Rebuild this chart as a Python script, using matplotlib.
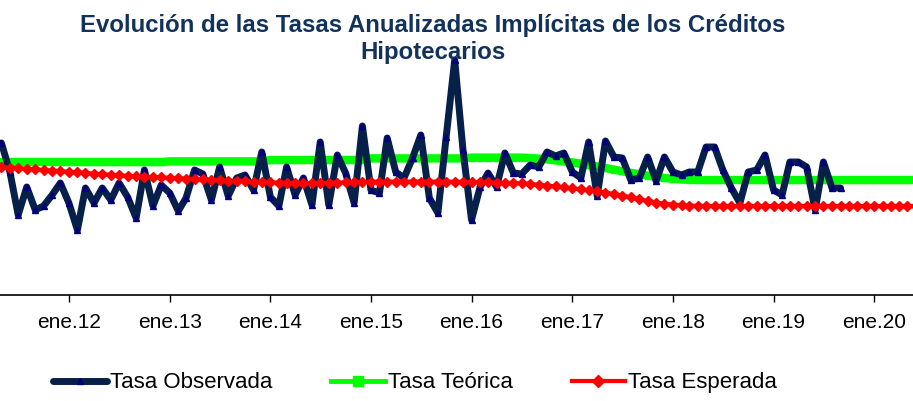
import matplotlib.pyplot as plt
from matplotlib.lines import Line2D
import pandas as pd

plt.rcParams['font.family'] = ['Liberation Sans', 'DejaVu Sans']

# monthly series, start May 2011
titulo = "Evolución de las Tasas Anualizadas Implícitas de los Créditos\nHipotecarios"
series = ["Tasa Observada", "Tasa Teórica", "Tasa Esperada"]
inicio = "2011-05-01"

tasa_observada = [
    8.35, 6.90, 4.75, 6.15, 5.00, 5.20, 5.75, 6.35,
    5.35, 4.00, 6.10, 5.35, 6.10, 5.50, 6.35, 5.65, 4.60, 7.00, 5.20, 6.25,
    5.85, 4.95, 5.60, 7.00, 6.80, 5.50, 7.15, 5.70, 6.60, 6.75, 6.00, 7.90,
    5.65, 5.20, 7.15, 5.75, 6.60, 5.25, 8.40, 5.25, 7.75, 6.85, 5.35, 9.20,
    6.00, 5.85, 8.60, 6.90, 6.60, 7.60, 8.75, 5.60, 4.85, 8.65, 12.50, 8.00,
    4.50, 6.15, 6.85, 6.15, 7.85, 6.85, 6.80, 7.25, 7.15, 7.90, 7.70, 7.85,
    6.90, 6.60, 8.40, 5.70, 8.45, 7.65, 7.60, 6.50, 6.60, 7.65, 6.45, 7.65,
    6.90, 6.75, 6.90, 6.90, 8.15, 8.15, 7.00, 6.10, 5.35, 6.90, 7.00, 7.75,
    6.00, 5.75, 7.40, 7.40, 7.15, 5.00, 7.40, 6.10, 6.10,
]

tasa_teorica = [
    7.40, 7.40, 7.40, 7.40, 7.40, 7.40, 7.40, 7.40,
    7.40, 7.40, 7.40, 7.40, 7.40, 7.40, 7.40, 7.40, 7.40, 7.40, 7.40, 7.40,
    7.43, 7.43, 7.43, 7.43, 7.43, 7.43, 7.43, 7.43, 7.43, 7.43, 7.43, 7.43,
    7.50, 7.50, 7.50, 7.50, 7.50, 7.50, 7.50, 7.50, 7.50, 7.50, 7.50, 7.50,
    7.58, 7.58, 7.58, 7.58, 7.58, 7.58, 7.58, 7.58, 7.58, 7.58, 7.58, 7.58,
    7.62, 7.62, 7.62, 7.62, 7.62, 7.62, 7.62, 7.60, 7.57, 7.53, 7.48, 7.43,
    7.38, 7.32, 7.25, 7.18, 7.10, 7.02, 6.94, 6.86, 6.79, 6.72, 6.66, 6.60,
    6.56, 6.53, 6.51, 6.50, 6.50, 6.50, 6.50, 6.50, 6.50, 6.50, 6.50, 6.50,
    6.50, 6.50, 6.50, 6.50, 6.50, 6.50, 6.50, 6.50, 6.50, 6.50, 6.50, 6.50,
    6.50, 6.50, 6.50, 6.50, 6.50, 6.50,
]

tasa_esperada = [
    7.15, 7.12, 7.09, 7.06, 7.03, 7.00, 6.97, 6.94,
    6.91, 6.88, 6.85, 6.82, 6.79, 6.76, 6.73, 6.71, 6.69, 6.67, 6.65, 6.63,
    6.61, 6.59, 6.57, 6.55, 6.53, 6.51, 6.49, 6.47, 6.45, 6.43, 6.41, 6.39,
    6.38, 6.37, 6.36, 6.35, 6.34, 6.34, 6.35, 6.36, 6.37, 6.38, 6.39, 6.40,
    6.41, 6.41, 6.42, 6.42, 6.42, 6.42, 6.42, 6.42, 6.42, 6.42, 6.41, 6.41,
    6.40, 6.39, 6.38, 6.37, 6.36, 6.35, 6.33, 6.30, 6.26, 6.22, 6.18, 6.13,
    6.08, 6.03, 5.98, 5.93, 5.87, 5.80, 5.72, 5.63, 5.54, 5.45, 5.37, 5.31,
    5.27, 5.24, 5.22, 5.21, 5.20, 5.20, 5.20, 5.20, 5.20, 5.20, 5.20, 5.20,
    5.20, 5.20, 5.20, 5.20, 5.20, 5.20, 5.20, 5.20, 5.20, 5.20, 5.20, 5.20,
    5.20, 5.20, 5.20, 5.20, 5.20, 5.20,
]

anios_ticks = ["2012-01-01", "2013-01-01", "2014-01-01", "2015-01-01", "2016-01-01",
               "2017-01-01", "2018-01-01", "2019-01-01", "2020-01-01"]
etiquetas_ticks = ["ene.12", "ene.13", "ene.14", "ene.15", "ene.16",
                   "ene.17", "ene.18", "ene.19", "ene.20"]

fechas_obs = pd.date_range(inicio, periods=len(tasa_observada), freq="MS")
fechas_mod = pd.date_range(inicio, periods=len(tasa_teorica), freq="MS")

col_obs, col_teo, col_esp = "#06204A", "#00FF00", "#FF0000"

fig = plt.figure(figsize=(9.13, 4.01), dpi=100)
ax = fig.add_axes([0, 0.2643, 1, 0.636])
ax.patch.set_alpha(0)

ax.plot(fechas_mod, tasa_teorica, color=col_teo, lw=6, marker="s", ms=5,
        mfc=col_teo, mec=col_teo, zorder=2)
ax.plot(fechas_obs, tasa_observada, color=col_obs, lw=5, marker="^", ms=4.5,
        mfc="#00007A", mec="#00007A", solid_joinstyle="round", solid_capstyle="round",
        zorder=3)
ax.plot(fechas_mod, tasa_esperada, color=col_esp, lw=3, marker="D", ms=5.5,
        mfc=col_esp, mec=col_esp, zorder=4)

ax.set_ylim(0.75, 13.5)
ax.set_xlim(pd.Timestamp("2011-04-26"), pd.Timestamp("2020-05-21"))
for lado in ["left", "right", "top"]:
    ax.spines[lado].set_visible(False)
ax.spines["bottom"].set_color("black")
ax.spines["bottom"].set_linewidth(1.2)
ax.set_yticks([])
ax.set_xticks(pd.to_datetime(anios_ticks))
ax.set_xticklabels(etiquetas_ticks)
ax.tick_params(axis="x", direction="out", length=5, width=1, pad=8, labelsize=15)

fig.text(0.474, 0.903, titulo, ha="center", va="center", fontsize=17.3,
         fontweight="bold", color="#12325C", multialignment="center",
         linespacing=1.25)

# legend handles: thinner lines than the plot, markers visible
handles = [
    Line2D([], [], color=col_obs, lw=5, marker="^", ms=4, mfc="#00007A",
           mec="#00007A", solid_capstyle="round"),
    Line2D([], [], color=col_teo, lw=3.5, marker="s", ms=6.5, mfc=col_teo, mec=col_teo),
    Line2D([], [], color=col_esp, lw=3, marker="D", ms=6, mfc=col_esp, mec=col_esp),
]
fig.legend(handles, series, loc="center", bbox_to_anchor=(0.455, 0.045), ncol=3,
           frameon=False, fontsize=16, handlelength=2.4, handletextpad=0.15,
           columnspacing=2.65)

fig.savefig("out.png", dpi=100)
